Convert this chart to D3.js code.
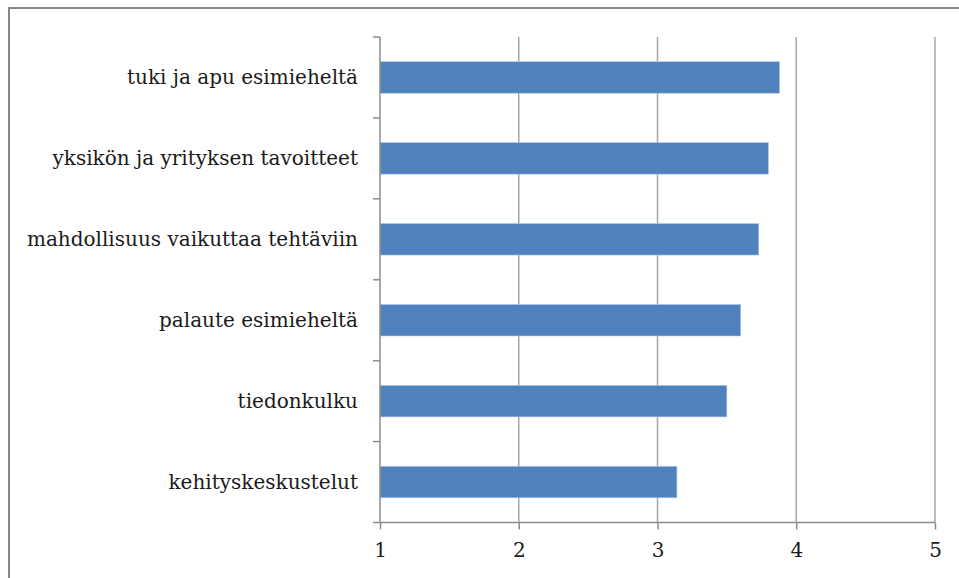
<!DOCTYPE html>
<html>
<head>
<meta charset="utf-8">
<script src="https://cdn.jsdelivr.net/npm/d3@7"></script>
<style>
  html, body { margin: 0; padding: 0; background: #fff; overflow: hidden; }
  svg { display: block; }
</style>
</head>
<body>
<div id="chart"></div>
<script>
const categories = [
  "tuki ja apu esimieheltä",
  "yksikön ja yrityksen tavoitteet",
  "mahdollisuus vaikuttaa tehtäviin",
  "palaute esimieheltä",
  "tiedonkulku",
  "kehityskeskustelut",
];
const values = [3.88, 3.8, 3.73, 3.6, 3.5, 3.14];
const xTicks = [1, 2, 3, 4, 5];

const serif = "'DejaVu Serif', 'Liberation Serif', serif";

const width = 959;
const height = 578;
const margin = { top: 37, right: 24, bottom: 55, left: 380 };
const plotWidth = 935 - margin.left;
const plotHeight = 522.5 - margin.top;

const svg = d3
  .select("#chart")
  .append("svg")
  .attr("width", width)
  .attr("height", height);

// outer chart frame (runs off the right and bottom edges)
svg
  .append("rect")
  .attr("x", 9)
  .attr("y", 8)
  .attr("width", 980)
  .attr("height", 600)
  .attr("fill", "none")
  .attr("stroke", "#878787")
  .attr("stroke-width", 2);

const g = svg
  .append("g")
  .attr("transform", `translate(${margin.left},${margin.top})`);

const x = d3.scaleLinear().domain([1, 5]).range([0, plotWidth]);
const y = d3
  .scaleBand()
  .domain(categories)
  .range([0, plotHeight])
  .paddingInner(0.61)
  .paddingOuter(0.305);

// vertical gridlines
g.append("g")
  .selectAll("line")
  .data(xTicks.slice(1))
  .join("line")
  .attr("x1", (d) => x(d))
  .attr("x2", (d) => x(d))
  .attr("y1", 0)
  .attr("y2", plotHeight)
  .attr("stroke", "#a6a6a6")
  .attr("stroke-width", 1.5);

// bars
g.selectAll("rect.bar")
  .data(values)
  .join("rect")
  .attr("class", "bar")
  .attr("x", x(1))
  .attr("y", (d, i) => y(categories[i]))
  .attr("width", (d) => x(d) - x(1))
  .attr("height", y.bandwidth())
  .attr("fill", "#4f81bd")
  .attr("stroke", "#b9cde5")
  .attr("stroke-width", 0.6);

// x axis
const xAxis = g
  .append("g")
  .attr("transform", `translate(0,${plotHeight})`)
  .call(d3.axisBottom(x).tickValues(xTicks).tickSize(7).tickPadding(13).tickFormat(d3.format("d")));
xAxis.attr("font-family", null).attr("font-size", null);
xAxis.select(".domain").attr("stroke", "#8c8c8c").attr("stroke-width", 1.5).attr("d", `M0,0H${plotWidth}`);
xAxis.selectAll(".tick line").attr("stroke", "#8c8c8c").attr("stroke-width", 1.5);
xAxis
  .selectAll("text")
  .style("font-family", serif)
  .style("font-size", "20px")
  .attr("fill", "#1a1a1a");

// category axis: ticks at band boundaries
const bounds = d3.range(categories.length + 1).map((i) => (plotHeight * i) / categories.length);
g.append("line")
  .attr("x1", 0)
  .attr("x2", 0)
  .attr("y1", 0)
  .attr("y2", plotHeight)
  .attr("stroke", "#8c8c8c")
  .attr("stroke-width", 1.5);
g.append("g")
  .selectAll("line")
  .data(bounds)
  .join("line")
  .attr("x1", -7)
  .attr("x2", 0)
  .attr("y1", (d) => d)
  .attr("y2", (d) => d)
  .attr("stroke", "#8c8c8c")
  .attr("stroke-width", 1.5);

g.append("g")
  .selectAll("text")
  .data(categories)
  .join("text")
  .attr("x", -22)
  .attr("y", (d) => y(d) + y.bandwidth() / 2)
  .attr("dy", "0.35em")
  .attr("text-anchor", "end")
  .attr("fill", "#1a1a1a")
  .style("font-family", serif)
  .style("font-size", "20px")
  .text((d) => d);
</script>
</body>
</html>
